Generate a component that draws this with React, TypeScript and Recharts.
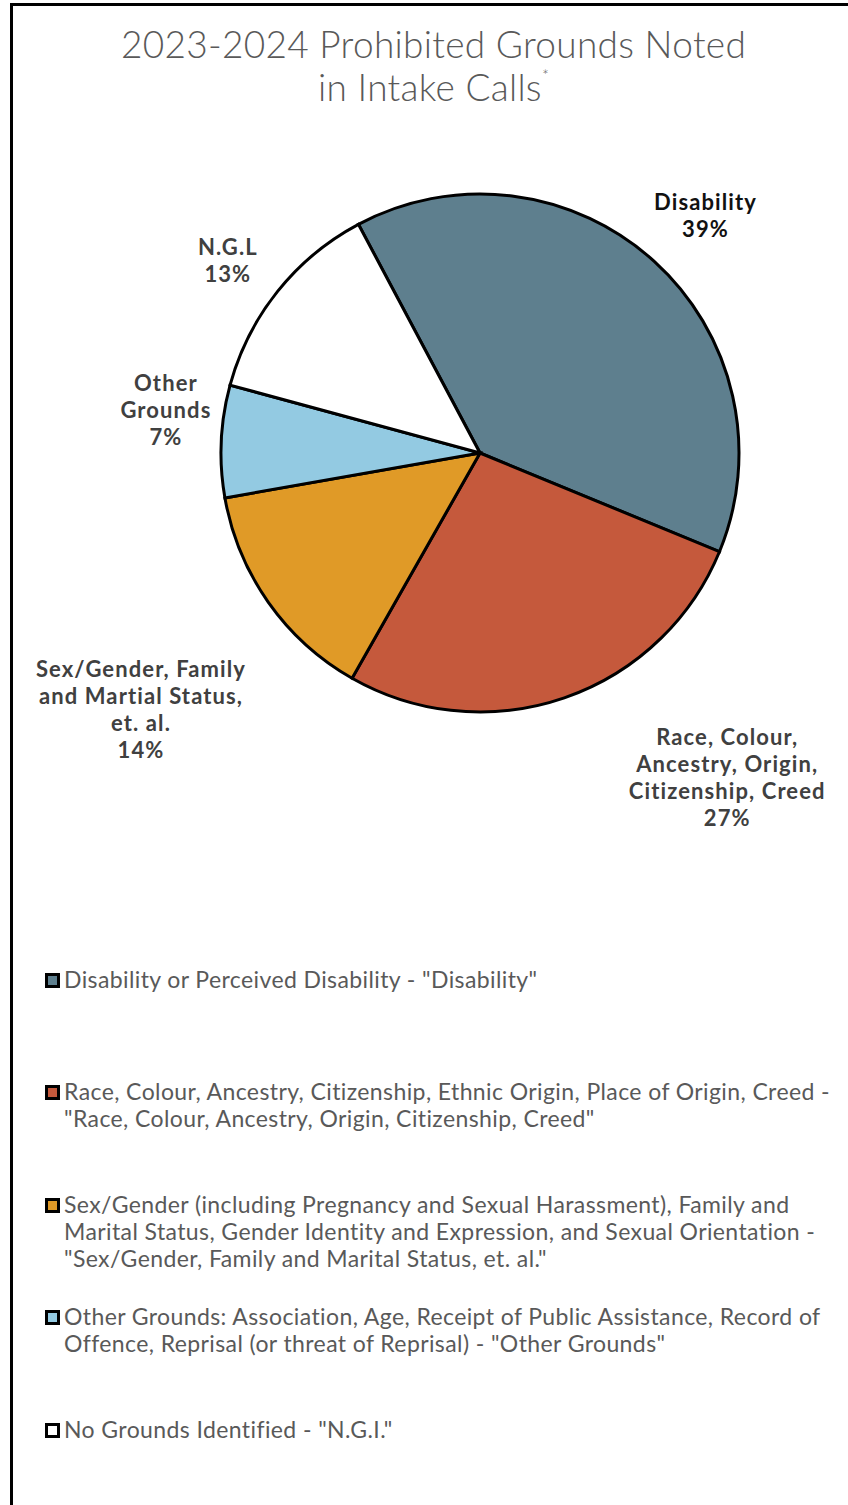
import { Cell, Legend, Pie, PieChart } from 'recharts'

const categories = ['Disability', 'Race', 'Sex/Gender', 'Other Grounds', 'N.G.L']
const shares = [39, 27, 14, 7, 13]
const sliceLabels = [
  'Disability',
  'Race, Colour,\nAncestry, Origin,\nCitizenship, Creed',
  'Sex/Gender, Family\nand Martial Status,\net. al.',
  'Other\nGrounds',
  'N.G.L',
]
const legendText = [
  'Disability or Perceived Disability - "Disability"',
  'Race, Colour, Ancestry, Citizenship, Ethnic Origin, Place of Origin, Creed -\n"Race, Colour, Ancestry, Origin, Citizenship, Creed"',
  'Sex/Gender  (including Pregnancy and Sexual Harassment), Family and\nMarital Status, Gender Identity and Expression, and Sexual Orientation -\n"Sex/Gender, Family and Marital Status, et. al."',
  'Other Grounds: Association, Age, Receipt of Public Assistance, Record of\nOffence, Reprisal (or threat of Reprisal) - "Other Grounds"',
  'No Grounds Identified - "N.G.I."',
]

const colors = ['#5e7f8e', '#c5593c', '#e09a27', '#93cae2', '#ffffff']
const labelColors = ['#111111', '#404040', '#404040', '#404040', '#404040']
// label placement: angle clockwise from 12 o'clock, distance from centre
const labelPlace = [
  [43.6, 327],
  [142.7, 408],
  [232.9, 425],
  [277.8, 317],
  [307.3, 317],
]

const FONT = 'Lato, "Open Sans", sans-serif'
const LINE = 27

const data = categories.map((name, i) => ({ name, value: shares[i] }))

function renderLabel(props: any) {
  const { cx, cy, index } = props
  const [ang, dist] = labelPlace[index]
  const rad = (ang * Math.PI) / 180
  const x = cx + dist * Math.sin(rad)
  const y = cy - dist * Math.cos(rad)
  const lines = [...sliceLabels[index].split('\n'), `${shares[index]}%`]
  const y0 = y - ((lines.length - 1) * LINE) / 2
  return (
    <text
      x={x}
      y={y0}
      textAnchor='middle'
      fill={labelColors[index]}
      fontFamily={FONT}
      fontWeight={700}
      fontSize={22}
      letterSpacing={1.1}
    >
      {lines.map((l, k) => (
        <tspan key={k} x={x} y={y0 + k * LINE} dy='0.35em'>
          {l}
        </tspan>
      ))}
    </text>
  )
}

function renderLegend() {
  return (
    <div style={{ fontFamily: FONT, fontSize: 23, letterSpacing: 0.4, color: '#595959' }}>
      {legendText.map((t, i) => (
        <div key={i} style={{ height: 112.5, position: 'relative', paddingLeft: 19 }}>
          <span
            style={{
              position: 'absolute',
              left: 0,
              top: 7,
              width: 9,
              height: 9,
              border: '3px solid #000',
              background: colors[i],
            }}
          />
          <div style={{ lineHeight: `${LINE}px`, whiteSpace: 'pre-line' }}>{t}</div>
        </div>
      ))}
    </div>
  )
}

export default function App() {
  return (
    <div
      style={{
        position: 'absolute',
        left: 10,
        top: 3,
        width: 838,
        height: 1502,
        borderLeft: '3px solid #000',
        borderTop: '3px solid #000',
        background: '#fff',
      }}
    >
      <div
        style={{
          position: 'absolute',
          left: 0,
          top: 16,
          width: 841,
          textAlign: 'center',
          fontFamily: FONT,
          fontWeight: 300,
          fontSize: 37,
          letterSpacing: 0.3,
          lineHeight: '43px',
          color: '#595959',
          zIndex: 1,
        }}
      >
        2023-2024 Prohibited Grounds Noted
        <br />
        in Intake Calls
        <sup style={{ fontSize: 16, verticalAlign: 'top', lineHeight: '20px' }}>*</sup>
      </div>
      <PieChart width={835} height={1499} margin={{ top: 0, right: 0, bottom: 0, left: 0 }}>
        <Pie
          data={data}
          dataKey='value'
          nameKey='name'
          cx={467}
          cy={447}
          outerRadius={259}
          startAngle={118}
          endAngle={-242}
          label={renderLabel}
          labelLine={false}
          isAnimationActive={false}
        >
          {data.map((d, i) => (
            <Cell key={d.name} fill={colors[i]} stroke='#000' strokeWidth={3} />
          ))}
        </Pie>
        <Legend
          layout='horizontal'
          align='left'
          verticalAlign='bottom'
          content={renderLegend}
          wrapperStyle={{ top: 959.5, left: 32, width: 800, bottom: 'auto' }}
        />
      </PieChart>
    </div>
  )
}
